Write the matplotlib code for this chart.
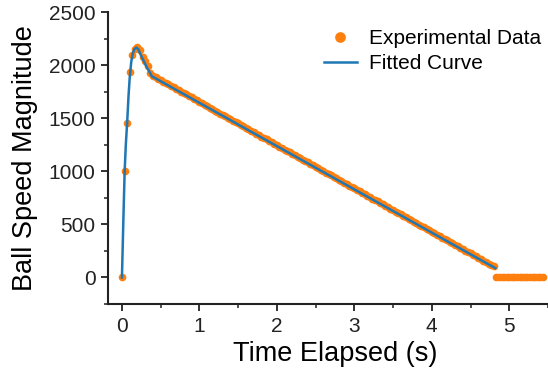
import numpy as np
import matplotlib
matplotlib.use("Agg")
import matplotlib.pyplot as plt
from matplotlib.ticker import MultipleLocator

plt.rcParams['font.family'] = ['Liberation Sans', 'DejaVu Sans']

# Experimental data sampled at 30 frames per second
frame_rate = 30.0
exp_speed = [
    0, 1003, 1459, 1931, 2094, 2150, 2168, 2142, 2072, 2034, 1995, 1925,
    1900, 1888, 1872, 1860, 1845, 1833, 1818, 1806, 1790, 1779, 1763, 1750,
    1736, 1724, 1708, 1696, 1680, 1670, 1652, 1641, 1625, 1614, 1598, 1587,
    1572, 1560, 1544, 1533, 1517, 1506, 1490, 1478, 1464, 1450, 1437, 1422,
    1409, 1396, 1381, 1369, 1354, 1342, 1327, 1314, 1300, 1287, 1273, 1260,
    1246, 1232, 1219, 1205, 1192, 1178, 1165, 1151, 1137, 1124, 1110, 1097,
    1083, 1069, 1056, 1042, 1029, 1015, 1001, 988, 974, 961, 947, 933,
    920, 906, 893, 879, 865, 852, 838, 825, 811, 797, 784, 770,
    757, 743, 729, 716, 702, 689, 675, 661, 648, 634, 621, 607,
    593, 580, 566, 553, 539, 525, 512, 498, 485, 471, 457, 444,
    430, 417, 403, 389, 376, 362, 349, 335, 321, 308, 294, 281,
    267, 253, 240, 226, 213, 199, 185, 172, 158, 145, 131, 117,
    104, 0, 0, 0, 0, 0, 0, 0, 0, 0, 0, 0,
    0, 0, 0, 0, 0, 0, 0, 0,
]
exp_time = np.arange(len(exp_speed)) / frame_rate

# Fitted curve
fit_time = [0.0, 0.02, 0.035, 0.05, 0.068, 0.085, 0.10, 0.12, 0.14, 0.16,
            0.185, 0.21, 0.24, 0.28, 0.32, 0.36, 0.385, 4.82]
fit_speed = [0, 590, 1000, 1250, 1470, 1710, 1880, 2030, 2110, 2150,
             2165, 2150, 2100, 2040, 1980, 1930, 1895, 88]

x_ticks = [0, 1, 2, 3, 4, 5]
y_ticks = [0, 500, 1000, 1500, 2000, 2500]

fig = plt.figure(figsize=(5.48, 3.71), dpi=100)
ax = fig.add_axes([108/548, 1-304/371, 1-108/548, (304-12)/371])

ax.plot(exp_time, exp_speed, 'o', color='#ff7f0e', ms=5.5, mew=0,
        label='Experimental Data', zorder=2)
ax.plot(fit_time, fit_speed, '-', color='#1f77b4', lw=1.8,
        label='Fitted Curve', zorder=3)

ax.set_xlim(-0.18, 5.5)
ax.set_ylim(-250, 2500)
ax.set_xticks(x_ticks)
ax.set_yticks(y_ticks)
ax.xaxis.set_minor_locator(MultipleLocator(0.5))
ax.yaxis.set_minor_locator(MultipleLocator(250))

for s in ['top', 'right']:
    ax.spines[s].set_visible(False)
for s in ['left', 'bottom']:
    ax.spines[s].set_linewidth(1.5)
    ax.spines[s].set_color('#222222')

ax.tick_params(which='major', direction='out', length=5, width=1.3,
               labelsize=15, pad=4, colors='#222222')
ax.tick_params(which='minor', direction='out', length=3, width=1.1, colors='#222222')

ax.set_xlabel('Time Elapsed (s)', fontsize=19.5)
ax.xaxis.set_label_coords((335 - 108) / 440, -37 / 292)
ax.set_ylabel('Ball Speed Magnitude', fontsize=19.5, labelpad=8)

leg = ax.legend(loc='upper right', bbox_to_anchor=(1.028, 1.006), frameon=False,
                fontsize=15, handlelength=1.6, handletextpad=0.6,
                labelspacing=0.3, markerscale=1.4)

fig.savefig('out.png', dpi=100)
